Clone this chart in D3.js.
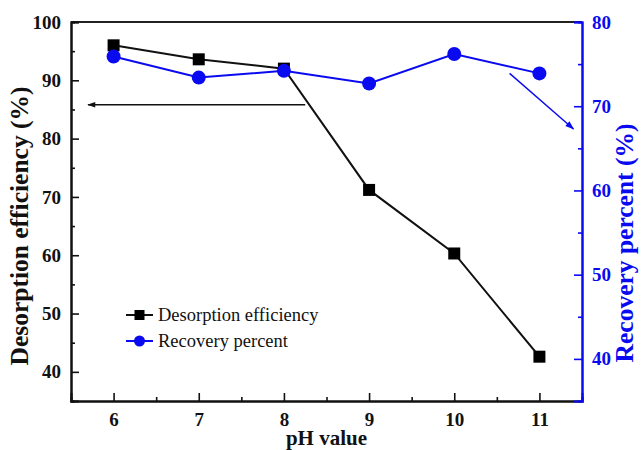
<!DOCTYPE html>
<html>
<head>
<meta charset="utf-8">
<script src="https://cdn.jsdelivr.net/npm/d3@7/dist/d3.min.js"></script>
<style>
  html, body { margin: 0; padding: 0; background: #fff; }
  svg text { font-family: "Liberation Serif", "Times New Roman", "DejaVu Serif", serif !important; }
</style>
</head>
<body>
<svg id="chart" width="641" height="450"></svg>
<script>
// pH values tested
const phValues = [6, 7, 8, 9, 10, 11];
// Desorption efficiency (%) – left axis
const desorption = [96.0, 93.6, 92.0, 71.2, 60.3, 42.6];
// Recovery percent (%) – right axis
const recovery = [75.9, 73.4, 74.2, 72.7, 76.2, 73.9];

const leftTicks = [40, 50, 60, 70, 80, 90, 100];
const rightTicks = [40, 50, 60, 70, 80];
const seriesNames = ["Desorption efficiency", "Recovery percent"];

const BLUE = "#0a0af0";
const SERIF = "'Liberation Serif', 'Times New Roman', serif";
const svg = d3.select("#chart");
const m = { left: 71, right: 582, top: 22, bottom: 401 };

const x = d3.scaleLinear().domain([5.5, 11.5]).range([m.left, m.right]);
const yL = d3.scaleLinear().domain([35, 100]).range([m.bottom, m.top]);
const yR = d3.scaleLinear().domain([35, 80]).range([m.bottom, m.top]);

// top frame line
svg.append("line")
  .attr("x1", m.left).attr("x2", m.right).attr("y1", m.top).attr("y2", m.top)
  .attr("stroke", "#222").attr("stroke-width", 2);

function styleTicks(g, color) {
  g.attr("font-family", null);
  g.selectAll(".domain").attr("stroke", color).attr("stroke-width", 2);
  g.selectAll(".tick line").attr("stroke", color).attr("stroke-width", 1.6);
  g.selectAll("text").attr("fill", color)
    .style("font-family", SERIF).style("font-size", "19px").style("font-weight", "bold");
}

// bottom axis with inward ticks
const minorX = d3.range(6.5, 11.5, 1);
const gx = svg.append("g").attr("transform", `translate(0,${m.bottom})`);
gx.call(d3.axisBottom(x).tickValues(minorX).tickSize(-4).tickFormat(""));
gx.append("g").call(d3.axisBottom(x).tickValues(phValues).tickSize(-8).tickPadding(12).tickFormat(d3.format("d")));
styleTicks(gx, "#111");

// left axis
const minorL = d3.range(45, 100, 10);
const gl = svg.append("g").attr("transform", `translate(${m.left},0)`);
gl.call(d3.axisLeft(yL).tickValues(minorL).tickSize(-4).tickFormat(""));
gl.append("g").call(d3.axisLeft(yL).tickValues(leftTicks).tickSize(-8).tickPadding(10).tickFormat(d3.format("d")));
styleTicks(gl, "#111");

// right axis (blue)
const minorR = d3.range(45, 80, 10);
const gr = svg.append("g").attr("transform", `translate(${m.right},0)`);
gr.call(d3.axisRight(yR).tickValues(minorR).tickSize(-4).tickFormat(""));
gr.append("g").call(d3.axisRight(yR).tickValues(rightTicks).tickSize(-8).tickPadding(10).tickFormat(d3.format("d")));
styleTicks(gr, BLUE);

// axis titles
svg.append("text")
  .attr("transform", "translate(28,226) rotate(-90)")
  .attr("text-anchor", "middle").attr("fill", "#111")
  .style("font-family", SERIF).style("font-size", "25.5px").style("font-weight", "bold")
  .text("Desorption efficiency (%)");
svg.append("text")
  .attr("transform", "translate(633,243) rotate(-90)")
  .attr("text-anchor", "middle").attr("fill", BLUE)
  .style("font-family", SERIF).style("font-size", "25.5px").style("font-weight", "bold")
  .text("Recovery percent (%)");
svg.append("text")
  .attr("x", (m.left + m.right) / 2).attr("y", 445)
  .attr("text-anchor", "middle").attr("fill", "#111")
  .style("font-family", SERIF).style("font-size", "21px").style("font-weight", "bold")
  .text("pH value");

// arrow markers
const defs = svg.append("defs");
function arrowHead(id, color, w, h) {
  defs.append("marker").attr("id", id)
    .attr("viewBox", "0 0 10 10").attr("refX", 9).attr("refY", 5)
    .attr("markerWidth", w).attr("markerHeight", h).attr("markerUnits", "userSpaceOnUse")
    .attr("orient", "auto")
    .append("path").attr("d", "M0,1.5 L10,5 L0,8.5 Z").attr("fill", color);
}
arrowHead("arrBlack", "#111", 14, 8);
arrowHead("arrBlue", BLUE, 13, 9);

// arrow pointing at the left axis (desorption series)
svg.append("line")
  .attr("x1", x(8.25)).attr("y1", yL(85.8))
  .attr("x2", x(5.7)).attr("y2", yL(85.8))
  .attr("stroke", "#111").attr("stroke-width", 1.4).attr("marker-end", "url(#arrBlack)");
// arrow pointing at the right axis (recovery series)
svg.append("line")
  .attr("x1", x(10.65)).attr("y1", yR(73.9))
  .attr("x2", x(11.4)).attr("y2", yR(67.3))
  .attr("stroke", BLUE).attr("stroke-width", 1.4).attr("marker-end", "url(#arrBlue)");

// desorption series
const lineL = d3.line().x((d, i) => x(phValues[i])).y(d => yL(d));
svg.append("path").datum(desorption).attr("d", lineL)
  .attr("fill", "none").attr("stroke", "#111").attr("stroke-width", 2);
const sq = 12;
svg.selectAll(".sq").data(desorption).join("rect").attr("class", "sq")
  .attr("x", (d, i) => x(phValues[i]) - sq / 2).attr("y", d => yL(d) - sq / 2)
  .attr("width", sq).attr("height", sq).attr("fill", "#000");

// recovery series
const lineR = d3.line().x((d, i) => x(phValues[i])).y(d => yR(d));
svg.append("path").datum(recovery).attr("d", lineR)
  .attr("fill", "none").attr("stroke", BLUE).attr("stroke-width", 2);
svg.selectAll(".dot").data(recovery).join("circle").attr("class", "dot")
  .attr("cx", (d, i) => x(phValues[i])).attr("cy", d => yR(d))
  .attr("r", 7).attr("fill", BLUE);

// legend
const legend = svg.append("g");
const legY = [315, 341];
legend.append("line").attr("x1", 126).attr("x2", 153).attr("y1", legY[0]).attr("y2", legY[0])
  .attr("stroke", "#111").attr("stroke-width", 2);
legend.append("rect").attr("x", 139.5 - 5).attr("y", legY[0] - 5).attr("width", 10).attr("height", 10).attr("fill", "#000");
legend.append("line").attr("x1", 126).attr("x2", 153).attr("y1", legY[1]).attr("y2", legY[1])
  .attr("stroke", BLUE).attr("stroke-width", 2);
legend.append("circle").attr("cx", 139.5).attr("cy", legY[1]).attr("r", 5.5).attr("fill", BLUE);
legend.selectAll("text.lg").data(seriesNames).join("text").attr("class", "lg")
  .attr("x", 158).attr("y", (d, i) => legY[i]).attr("dy", "0.35em").attr("fill", "#111")
  .style("font-family", SERIF).style("font-size", "18.5px")
  .text(d => d);
</script>
</body>
</html>
